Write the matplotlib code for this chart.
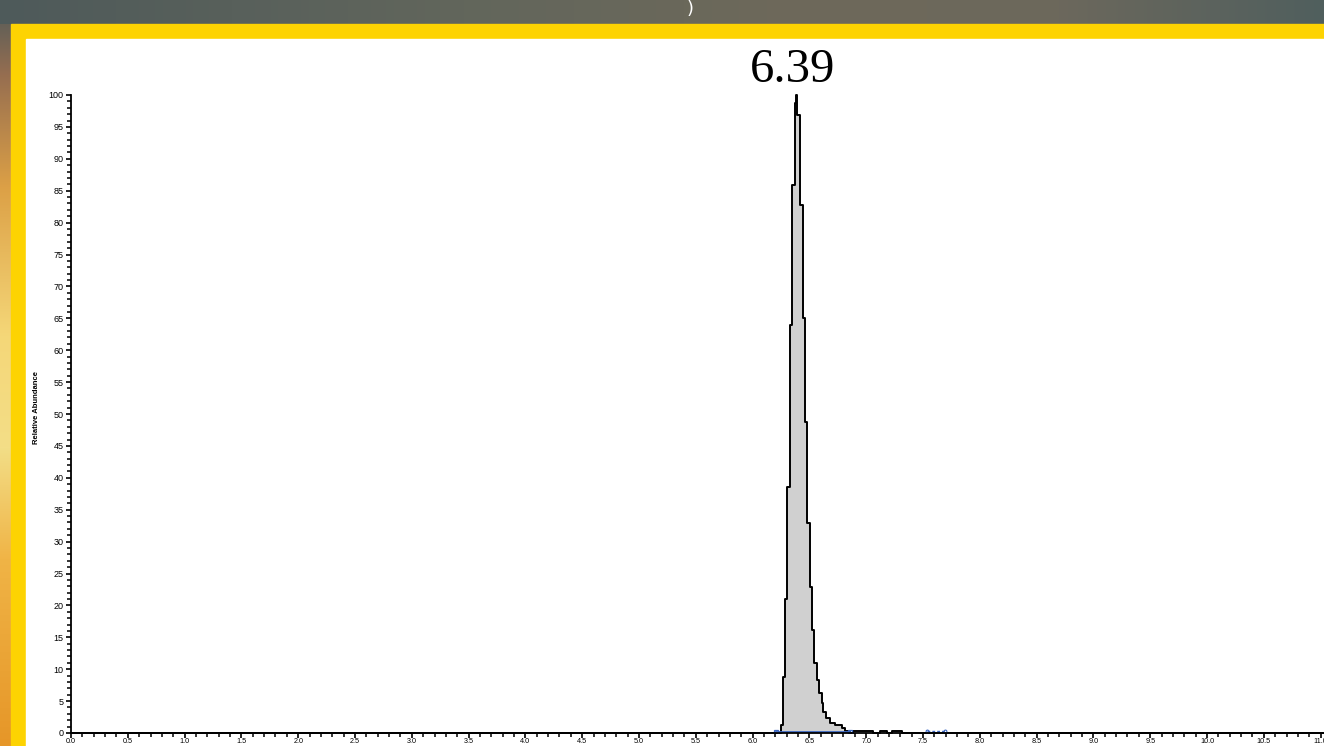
import matplotlib
matplotlib.use("Agg")
import matplotlib.pyplot as plt
import numpy as np
from matplotlib.ticker import MultipleLocator, FormatStrFormatter
from matplotlib.patches import Rectangle

## Data (retention time in min, relative abundance in %)
time = [0.0, 6.206, 6.250, 6.265, 6.288, 6.305, 6.332, 6.347, 6.373, 6.386,
        6.395, 6.417, 6.444, 6.461, 6.476, 6.505, 6.523, 6.540, 6.564, 6.587,
        6.608, 6.620, 6.646, 6.681, 6.725, 6.784, 6.813, 6.857,
        6.884, 7.060, 7.121, 7.183, 7.227, 7.315, 11.03]
abundance = [0.0, 0.0, 1.3, 8.7, 21.0, 38.6, 64.0, 85.9, 98.7, 100.0,
             96.9, 82.8, 65.0, 48.8, 32.9, 22.9, 16.1, 11.0, 8.3, 6.3,
             4.7, 3.3, 2.4, 1.6, 1.25, 0.8, 0.3, 0.0,
             0.25, 0.0, 0.35, 0.0, 0.35, 0.0, 0.0]
peak_label = "6.39"
peak_time = 6.39
peak_start, peak_end = 6.206, 6.857    # integration baseline
small_start, small_end = 7.535, 7.694  # small integrated bump

## Background colours
top_stops = [(0.0, (78, 90, 90)), (0.35, (98, 102, 92)), (0.6, (110, 105, 90)),
             (0.8, (108, 104, 92)), (1.0, (80, 95, 94))]
left_stops = [(0.0, (78, 90, 90)), (0.1, (150, 110, 80)), (0.25, (220, 160, 70)),
              (0.45, (245, 215, 120)), (0.6, (243, 222, 135)), (0.75, (240, 180, 70)),
              (1.0, (230, 150, 40))]

W, H = 1324, 746

def ramp(stops, n):
    pos = np.linspace(0, 1, n)
    p = [s[0] for s in stops]
    return np.stack([np.interp(pos, p, [s[1][i] for s in stops]) for i in range(3)], axis=1) / 255.

fig = plt.figure(figsize=(W/100., H/100.), dpi=100)

# backdrop: gradient strips, yellow frame, white panel
bg = fig.add_axes([0, 0, 1, 1], zorder=-5)
img = np.ones((H, W, 3))
img[:, :, :] = ramp(top_stops, W)[None, :, :]
img[24:, :11, :] = ramp(left_stops, H)[24:, None, :]
bg.imshow(img, aspect="auto", extent=(0, W, H, 0))
bg.add_patch(Rectangle((11, 24), W, H, color="#fdd302"))
bg.add_patch(Rectangle((26, 39), W, H, color="white"))
bg.set_xlim(0, W); bg.set_ylim(H, 0)
bg.axis("off")
fig.text(690./W, 1 - 9./H, ")", color="white", fontsize=13, ha="center", va="center")

## Chromatogram
ax = fig.add_axes([71./W, 13./H, (W - 71.)/W, 638./H])
ax.set_facecolor("none")
ax.fill_between(time, abundance, step="post", color="#d0d0d0", lw=0)
ax.step(time, abundance, where="post", color="black", lw=1.4, clip_on=False)
ax.plot([peak_start, peak_end], [0.2, 0.2], color="#3a66c0", lw=1.3,
        marker="s", ms=3, mfc="none", mec="#3a66c0", mew=0.9)
ax.plot([small_start, small_end], [0.25, 0.25], color="#3a66c0", lw=1.0, ls=(0, (2, 1.5)),
        marker="o", ms=2, mfc="none", mec="#3a66c0", mew=0.8)
ax.annotate(peak_label, xy=(peak_time, 100), xytext=(-3, 2), textcoords="offset points",
            ha="center", va="bottom", fontsize=35, family="Liberation Serif",
            annotation_clip=False)

ax.set_xlim(0, 11.03)
ax.set_ylim(0, 100)
for s in ["top", "right"]:
    ax.spines[s].set_visible(False)
for s in ["left", "bottom"]:
    ax.spines[s].set_linewidth(1.3)
ax.xaxis.set_major_locator(MultipleLocator(0.5))
ax.xaxis.set_minor_locator(MultipleLocator(0.1))
ax.xaxis.set_major_formatter(FormatStrFormatter("%.1f"))
ax.yaxis.set_major_locator(MultipleLocator(5))
ax.yaxis.set_minor_locator(MultipleLocator(1))
ax.tick_params(which="major", length=3.5, width=1.2)
ax.tick_params(which="minor", length=3, width=1.1)
ax.tick_params(axis="x", which="major", labelsize=5.2, pad=0)
ax.tick_params(axis="y", which="major", labelsize=6.5, pad=2)
for lab in ax.get_xticklabels() + ax.get_yticklabels():
    lab.set_family("Liberation Sans")
fig.text(37./W, 1 - 408./H, "Relative Abundance", rotation=90, fontsize=5.5,
         fontweight="bold", family="Liberation Sans", ha="center", va="center")

fig.savefig("out.png", dpi=100)
